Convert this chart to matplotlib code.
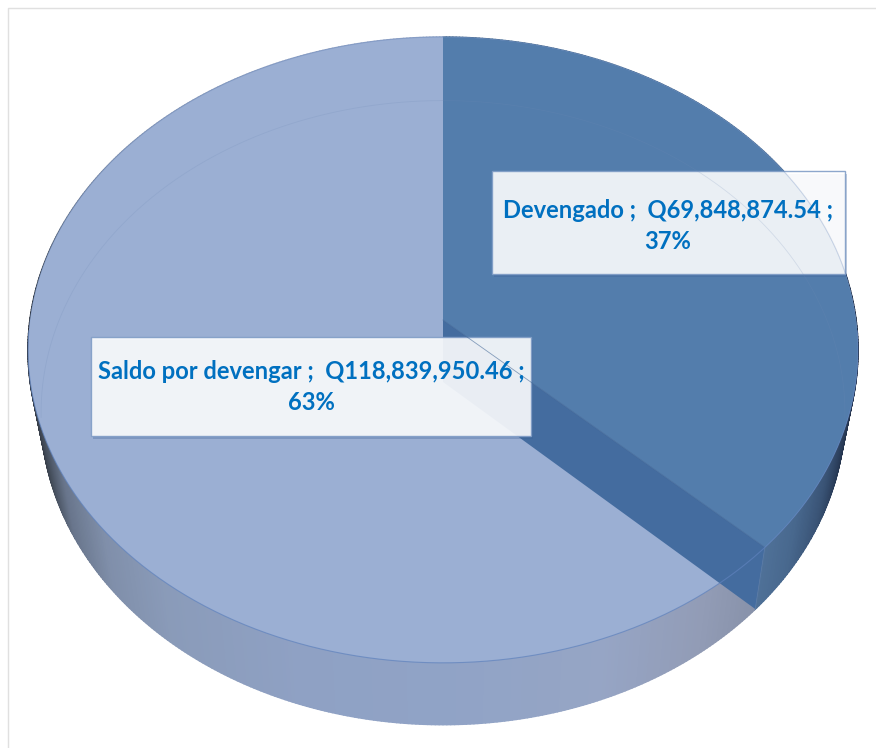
import numpy as np
import matplotlib
matplotlib.use("Agg")
import matplotlib.pyplot as plt
from matplotlib.patches import Polygon, Rectangle
from matplotlib.collections import PolyCollection

categories = ["Devengado", "Saldo por devengar"]
values = [69848874.54, 118839950.46]
percents = ["37%", "63%"]

plt.rcParams['font.family'] = ['Lato', 'DejaVu Sans']

# perspective of the disc, in pixels: centre x, centre y, radius x, radius y, tilt
top_disc = (443, 320, 413, 310, 0.0958)
bottom_disc = (443, 382, 400, 309, 0.098)

light = "#9bafd3"
dark = "#537dac"
wall = "#446c9f"
text_col = "#0070c0"


def project(disc, theta):
    # theta is clockwise from 12 o'clock
    cx, cy, rx, ry, k = disc
    u = np.sin(theta)
    v = np.cos(theta)
    w = 1 + k * v
    return cx + rx * u / w, cy - ry * v / w


def rim_colour(x, is_dark):
    if is_dark:
        stops = [756, 790, 820, 840, 858]
        cols = [(80, 114, 153), (72, 104, 142), (58, 84, 118), (40, 58, 86), (22, 32, 50)]
    else:
        stops = [28, 45, 70, 110, 170, 300, 443, 600, 700, 756]
        cols = [(30, 32, 38), (60, 68, 80), (105, 118, 140), (128, 143, 170), (138, 155, 185),
                (143, 161, 196), (144, 163, 198), (150, 165, 197), (146, 156, 182), (136, 146, 170)]
    cols = np.array(cols) / 255
    return [np.interp(x, stops, cols[:, i]) for i in range(3)]


split = 2 * np.pi * values[0] / sum(values)

fig = plt.figure(figsize=(8.76, 7.48), dpi=100)
ax = fig.add_axes([0, 0, 1, 1])
ax.set_xlim(0, 876)
ax.set_ylim(748, 0)
ax.axis("off")

# picture frame
ax.plot([8, 8, 876], [748, 8, 8], color="#e0e0e0", lw=1)

# side wall as thin strips so the shading can change along the rim
angles = np.linspace(0, 2 * np.pi, 721)
strips = []
colours = []
for a, b in zip(angles[:-1], angles[1:]):
    x1, y1 = project(top_disc, a)
    x2, y2 = project(top_disc, b)
    x3, y3 = project(bottom_disc, b)
    x4, y4 = project(bottom_disc, a)
    strips.append([(x1, y1), (x2, y2), (x3, y3), (x4, y4)])
    colours.append(rim_colour((x1 + x2 + x3 + x4) / 4, (a + b) / 2 < split))
order = np.argsort([max(p[1] for p in s) for s in strips])
ax.add_collection(PolyCollection([strips[i] for i in order],
                                 facecolors=[colours[i] for i in order],
                                 edgecolors=[colours[i] for i in order], linewidths=1.2))

# top faces
tx, ty = project(top_disc, angles)
ax.add_patch(Polygon(np.column_stack([tx, ty]), closed=True, fc=light, ec="none"))

arc = np.linspace(0, split, 200)
ax_, ay_ = project(top_disc, arc)
dark_pts = [(top_disc[0], top_disc[1])] + list(zip(ax_, ay_))
ax.add_patch(Polygon(dark_pts, closed=True, fc=dark, ec="none"))

# cut wall of the dark slice
sx, sy = project(top_disc, split)
bx, by = project(bottom_disc, split)
ax.add_patch(Polygon([(top_disc[0], top_disc[1]), (sx, sy), (bx, by), (bottom_disc[0], bottom_disc[1])],
                     closed=True, fc=wall, ec="none"))
ax.plot([top_disc[0], sx], [top_disc[1], sy], color="#3f6594", lw=0.6, alpha=0.6)
ax.plot([sx, bx], [sy, by], color="#5a7ba6", lw=0.6)

# outlines, the lower disc shows faintly through the top
ax.plot(tx, np.where(ty > 330, ty, np.nan), color="#5f82bd", lw=0.8, alpha=0.7)
ax.plot(tx, np.where(ty <= 330, ty, np.nan), color="#5f82bd", lw=0.6, alpha=0.3)
gx, gy = project(bottom_disc, angles)
ax.plot(gx, np.where(gy < 420, gy, np.nan), color="#6f8ab5", lw=0.6, alpha=0.2)

# data labels
boxes = [(492, 171, 353, 103), (91, 337, 440, 99)]
text_pos = [(668, 226), (311, 387)]
for i in range(2):
    x, y, w, h = boxes[i]
    ax.add_patch(Rectangle((x + 1.5, y + 2.5), w, h, fc="#3a5f95", ec="none", alpha=0.3))
    ax.add_patch(Rectangle((x, y), w, h, fc="white", ec="#7f9cc6", lw=1, alpha=0.89))
    label = f"{categories[i]} ;  Q{values[i]:,.2f} ;\n{percents[i]}"
    ax.text(text_pos[i][0], text_pos[i][1], label, color=text_col, fontsize=17.1, fontweight="bold",
            ha="center", va="center", linespacing=1.42)

fig.savefig("out.png", dpi=100)
